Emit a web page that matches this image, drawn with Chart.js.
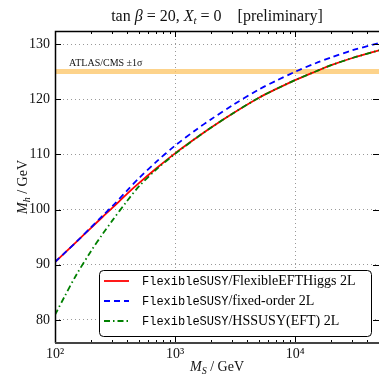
<!DOCTYPE html>
<html>
<head>
<meta charset="utf-8">
<script src="https://cdn.jsdelivr.net/npm/chart.js@4.4.1/dist/chart.umd.min.js"></script>
<style>
  html, body { margin: 0; background: #fff; }
  #wrap { width: 379px; height: 377px; }
</style>
</head>
<body>
<div id="wrap"><canvas id="chart"></canvas></div>
<script>
'use strict'

// M_S in GeV
var msValues = [100, 120, 150, 200, 250, 300, 400, 500, 700, 1000, 1500, 2000, 3000, 5000, 7000, 10000, 15000, 20000, 30000, 50000];
// M_h in GeV
var mhEFTHiggs   = [90.5, 92.1, 94.1, 96.7, 98.7, 100.3, 102.9, 104.8, 107.5, 110.2, 113.0, 114.9, 117.4, 120.3, 121.9, 123.5, 125.1, 126.2, 127.5, 128.9];
var mhFixedOrder = [90.5, 92.1, 94.1, 96.8, 98.9, 100.6, 103.5, 105.7, 108.7, 111.6, 114.5, 116.4, 118.9, 121.8, 123.4, 125.0, 126.6, 127.6, 128.9, 130.2];
var mhHSSUSY     = [80.9, 84.2, 88.1, 92.5, 95.6, 98.0, 101.6, 104.2, 107.3, 110.1, 113.0, 114.9, 117.4, 120.3, 121.9, 123.5, 125.1, 126.2, 127.5, 128.9];

var legendPrefix = 'FlexibleSUSY';
var seriesNames = ['/FlexibleEFTHiggs 2L', '/fixed-order 2L', '/HSSUSY(EFT) 2L'];
var seriesColors = ['#ff0000', '#0000ff', '#008000'];
var seriesDash = [[], [6, 4], [6, 3, 1.5, 3]];

var higgsBand = [124.6, 125.5];  // ATLAS/CMS +-1 sigma
var bandLabel = 'ATLAS/CMS \u00b11\u03c3';

var xRange = [100, 50000];
var yRange = [75.8, 132.4];
var xTickValues = [100, 1000, 10000];
var yTickValues = [80, 90, 100, 110, 120, 130];

var SERIF = '"Liberation Serif", "DejaVu Serif", serif';
var MONO = '"Liberation Mono", "DejaVu Sans Mono", monospace';
var SUP = {2: '\u00b2', 3: '\u00b3', 4: '\u2074'};

function pts(ys) {
	return msValues.map(function (x, i) { return {x: x, y: ys[i]}; });
}

// draw text built of pieces in different fonts: [text, font, dy]
function drawRich(ctx, parts, x, y, align) {
	var w = 0;
	parts.forEach(function (p) { ctx.font = p[1]; w += ctx.measureText(p[0]).width; });
	var cx = align === 'center' ? x - w / 2 : (align === 'right' ? x - w : x);
	ctx.textAlign = 'left';
	ctx.textBaseline = 'alphabetic';
	parts.forEach(function (p) {
		ctx.font = p[1];
		ctx.fillText(p[0], cx, y + (p[2] || 0));
		cx += ctx.measureText(p[0]).width;
	});
}

var decorations = {
	id: 'decorations',
	afterDraw: function (chart) {
		var ctx = chart.ctx, a = chart.chartArea,
			xs = chart.scales.x, ys = chart.scales.y;
		ctx.save();
		ctx.fillStyle = '#000';
		ctx.strokeStyle = '#000';
		ctx.lineWidth = 1;

		// tick marks pointing inwards
		ctx.beginPath();
		[100, 1000, 10000].forEach(function (d) {
			for (var k = 1; k <= 9; k++) {
				var v = d * k;
				if (v > xRange[1]) break;
				var px = Math.round(xs.getPixelForValue(v)) + 0.5;
				var len = k === 1 ? 6 : 3;
				ctx.moveTo(px, a.bottom); ctx.lineTo(px, a.bottom - len);
				ctx.moveTo(px, a.top); ctx.lineTo(px, a.top + len);
			}
		});
		yTickValues.forEach(function (v) {
			var py = Math.round(ys.getPixelForValue(v)) + 0.5;
			ctx.moveTo(a.left, py); ctx.lineTo(a.left + 6, py);
			ctx.moveTo(a.right, py); ctx.lineTo(a.right - 6, py);
		});
		ctx.stroke();

		// frame
		ctx.lineWidth = 1.5;
		ctx.beginPath();
		ctx.moveTo(a.right, a.top + 0.5); ctx.lineTo(a.left + 0.5, a.top + 0.5);
		ctx.lineTo(a.left + 0.5, a.bottom); ctx.stroke();
		ctx.strokeStyle = '#444';
		ctx.lineWidth = 2;
		ctx.beginPath();
		ctx.moveTo(a.left, a.bottom); ctx.lineTo(a.right, a.bottom); ctx.stroke();

		// band label
		ctx.fillStyle = '#111';
		drawRich(ctx, [[bandLabel, '10px ' + SERIF]], xs.getPixelForValue(131), ys.getPixelForValue(higgsBand[1]) - 3, 'left');

		// legend
		var lx = 99.5, ly = 270.5, lw = 272, lh = 66;
		ctx.beginPath();
		ctx.roundRect(lx, ly, lw, lh, 4);
		ctx.fillStyle = '#fff';
		ctx.fill();
		ctx.strokeStyle = '#000';
		ctx.lineWidth = 1;
		ctx.stroke();
		seriesNames.forEach(function (name, i) {
			var ry = 281 + i * 20;
			ctx.save();
			ctx.strokeStyle = seriesColors[i];
			ctx.lineWidth = 1.8;
			ctx.setLineDash(seriesDash[i]);
			ctx.beginPath();
			ctx.moveTo(104, ry); ctx.lineTo(129, ry);
			ctx.stroke();
			ctx.restore();
			ctx.fillStyle = '#000';
			drawRich(ctx, [[legendPrefix, '12px ' + MONO], [name, '14px ' + SERIF]], 142, ry + 4, 'left');
		});

		// title
		ctx.fillStyle = '#111';
		var cx = (a.left + a.right) / 2;
		drawRich(ctx, [
			['tan ', '16px ' + SERIF], ['\u03b2', 'italic 16px ' + SERIF], [' = 20, ', '16px ' + SERIF],
			['X', 'italic 16px ' + SERIF], ['t', 'italic 11px ' + SERIF, 3], [' = 0', '16px ' + SERIF],
			['    [preliminary]', '16px ' + SERIF]
		], cx, 21, 'center');

		// axis titles
		drawRich(ctx, [['M', 'italic 14px ' + SERIF], ['S', 'italic 10px ' + SERIF, 3], [' / GeV', '14px ' + SERIF]], cx, 371, 'center');
		ctx.translate(27, (a.top + a.bottom) / 2);
		ctx.rotate(-Math.PI / 2);
		drawRich(ctx, [['M', 'italic 14px ' + SERIF], ['h', 'italic 10px ' + SERIF, 3], [' / GeV', '14px ' + SERIF]], 0, 0, 'center');
		ctx.restore();
	}
};

var lineStyle = function (i, data, order) {
	return {
		label: legendPrefix + seriesNames[i],
		data: pts(data),
		borderColor: seriesColors[i],
		borderDash: seriesDash[i],
		borderWidth: 1.8,
		pointRadius: 0,
		tension: 0.3,
		fill: false,
		order: order
	};
};

var chart = new Chart(document.getElementById('chart'), {
	type: 'line',
	data: {
		datasets: [
			lineStyle(0, mhEFTHiggs, 3),
			lineStyle(1, mhFixedOrder, 2),
			lineStyle(2, mhHSSUSY, 1),
			{
				label: 'band',
				data: [{x: xRange[0], y: higgsBand[1]}, {x: xRange[1], y: higgsBand[1]}],
				borderWidth: 0,
				pointRadius: 0,
				backgroundColor: 'rgba(252, 196, 100, 0.75)',
				fill: {value: higgsBand[0]},
				order: 5
			}
		]
	},
	options: {
		responsive: true,
		maintainAspectRatio: false,
		animation: false,
		layout: {padding: {top: 31, right: 0, left: 0, bottom: 0}},
		plugins: {legend: {display: false}, tooltip: {enabled: false}, title: {display: false}},
		scales: {
			x: {
				type: 'logarithmic',
				min: xRange[0],
				max: xRange[1],
				afterBuildTicks: function (scale) {
					scale.ticks = xTickValues.map(function (v) { return {value: v}; });
				},
				afterFit: function (scale) { scale.height = 34; },
				ticks: {
					color: '#111',
					font: {family: SERIF, size: 14},
					padding: 3,
					maxRotation: 0,
					autoSkip: false,
					callback: function (v) { return '10' + SUP[Math.round(Math.log10(v))]; }
				},
				grid: {color: '#999', lineWidth: 1, drawTicks: false},
				border: {display: false, dash: [1, 3]}
			},
			y: {
				min: yRange[0],
				max: yRange[1],
				afterBuildTicks: function (scale) {
					scale.ticks = yTickValues.map(function (v) { return {value: v}; });
				},
				afterFit: function (scale) { scale.width = 55; },
				ticks: {
					color: '#111',
					font: {family: SERIF, size: 14},
					padding: 5
				},
				grid: {color: '#999', lineWidth: 1, drawTicks: false},
				border: {display: false, dash: [1, 3]}
			}
		}
	},
	plugins: [decorations]
});
</script>
</body>
</html>
